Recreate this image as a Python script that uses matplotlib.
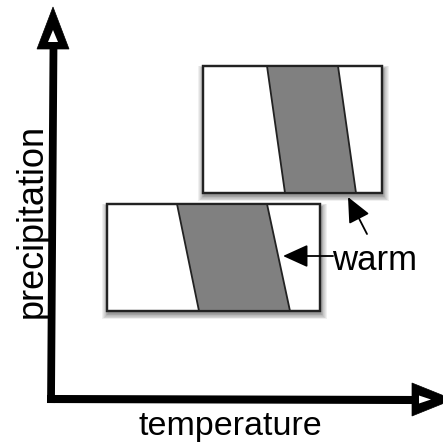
import matplotlib
matplotlib.use("Agg")
from matplotlib import pyplot as plt
from matplotlib.patches import Rectangle, Polygon, FancyArrowPatch

# boxes (pixel coords: left, top, right, bottom)
box_upper = [203, 66, 382, 193]
box_lower = [107, 204, 320, 311]
# shaded band: top-left x, top-right x, bottom-left x, bottom-right x
band_upper = [267, 338, 285, 356]
band_lower = [177, 267, 199, 290]

# arrows from the label (tail -> tip)
arrow_tails = [(333, 256), (367, 234)]
arrow_tips = [(283, 256), (348, 197)]

x_label = "temperature"
y_label = "precipitation"
note = "warm"


def draw_box(ax, box, band):
    l, t, r, b = box
    w, h = r - l, b - t
    # soft drop shadow
    for k in range(8):
        ax.add_patch(Rectangle((l - k * 0.8 + 1, t - k * 0.5 + 3), w + k * 1.6, h + k * 1.2,
                               facecolor="black", edgecolor="none", alpha=0.06, zorder=1))
    ax.add_patch(Rectangle((l, t), w, h, facecolor="white", edgecolor="#222222",
                           linewidth=1.6, zorder=2))
    tl, tr, bl, br = band
    ax.add_patch(Polygon([(tl, t), (tr, t), (br, b), (bl, b)], closed=True,
                         facecolor="#808080", edgecolor="#222222", linewidth=1.3, zorder=3))
    ax.add_patch(Rectangle((l, t), w, h, facecolor="none", edgecolor="#222222",
                           linewidth=1.6, zorder=4))


fig = plt.figure(figsize=(4.43, 4.43), dpi=100)
ax = fig.add_axes([0, 0, 1, 1])
ax.set_xlim(0, 443)
ax.set_ylim(443, 0)
ax.axis("off")

# axes lines
ax.plot([53.5, 51], [45, 403], color="black", linewidth=5.6, solid_capstyle="butt", zorder=5)
ax.plot([47, 414], [399, 400], color="black", linewidth=5.8, solid_capstyle="butt", zorder=5)

# hollow arrow heads
ax.add_patch(Polygon([(53, 7), (37, 49), (69, 49)], closed=True, facecolor="black",
                     edgecolor="black", linewidth=0.5, zorder=6))
ax.add_patch(Polygon([(53, 30), (48, 42), (58, 42)], closed=True, facecolor="white",
                     edgecolor="none", zorder=7))
ax.add_patch(Polygon([(412, 383), (412, 416), (453, 399.5)], closed=True, facecolor="black",
                     edgecolor="black", linewidth=0.5, zorder=6))
ax.add_patch(Polygon([(419, 395.5), (419, 403.5), (431, 399.5)], closed=True, facecolor="white",
                     edgecolor="none", zorder=7))

draw_box(ax, box_lower, band_lower)
draw_box(ax, box_upper, band_upper)

for tail, tip in zip(arrow_tails, arrow_tips):
    ax.add_patch(FancyArrowPatch(tail, tip, arrowstyle="-|>,head_length=1.1,head_width=0.5",
                                 mutation_scale=14, color="black", linewidth=1.3,
                                 shrinkA=0, shrinkB=0, zorder=8))

ax.text(230, 411, x_label, ha="center", va="top", fontsize=24.5, family="Liberation Sans")
ax.text(32, 221, y_label, ha="center", va="center", rotation=90, fontsize=26,
        family="Liberation Sans")
ax.text(332, 270, note, ha="left", va="baseline", fontsize=25, family="Liberation Sans")

fig.savefig("out.png", dpi=100)
